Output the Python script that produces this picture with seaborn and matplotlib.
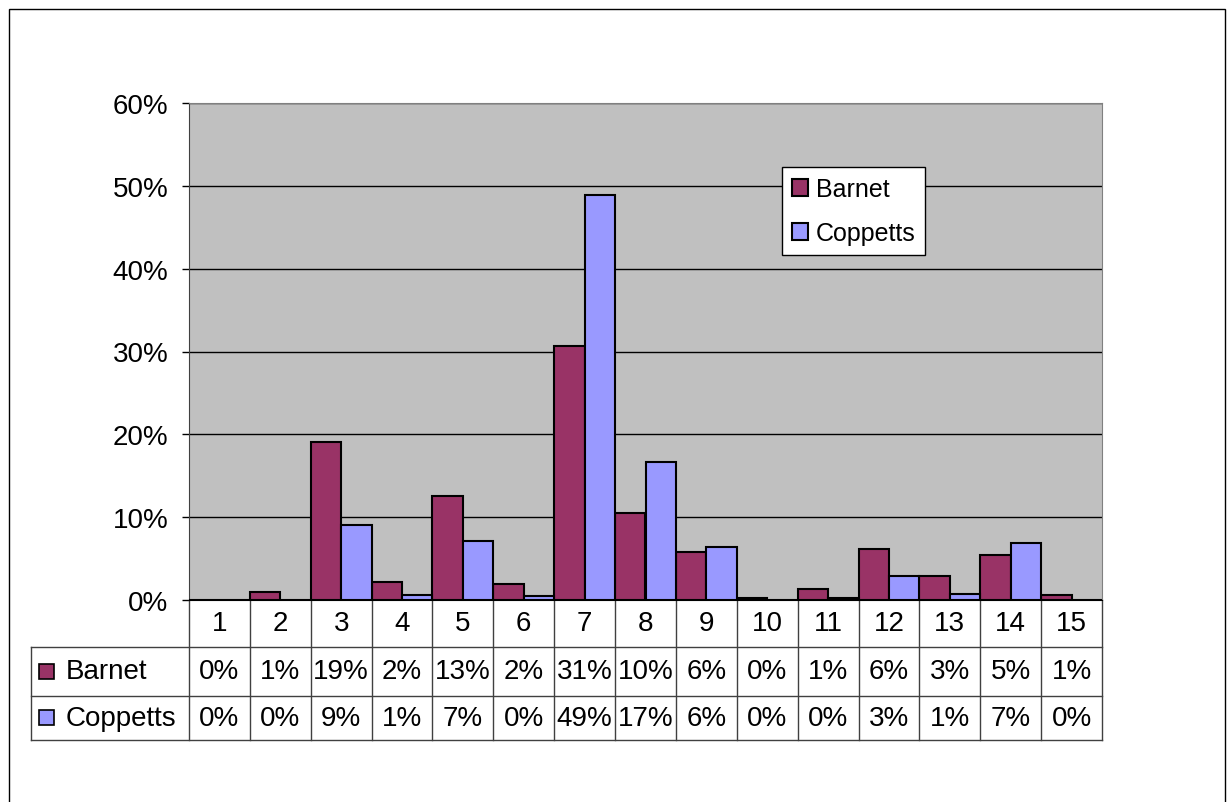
import numpy as np
import pandas as pd
import matplotlib.pyplot as plt
import matplotlib.transforms as mtransforms
from matplotlib.patches import Rectangle
import seaborn as sns

# data (percent)
categories = [str(i) for i in range(1, 16)]
series = ['Barnet', 'Coppetts']
barnet = [0.0, 1.0, 19.1, 2.2, 12.6, 1.95, 30.7, 10.45, 5.8, 0.2, 1.3, 6.1, 2.9, 5.45, 0.55]
coppetts = [0.0, 0.0, 9.0, 0.55, 7.1, 0.45, 48.9, 16.7, 6.45, 0.0, 0.2, 2.9, 0.7, 6.85, 0.0]
colors = ['#993366', '#9999FF']
yticks = [0, 10, 20, 30, 40, 50, 60]

df = pd.DataFrame({
    'category': categories * 2,
    'site': ['Barnet'] * len(categories) + ['Coppetts'] * len(categories),
    'value': barnet + coppetts,
})

plt.rcParams['font.family'] = ['Liberation Sans', 'DejaVu Sans']

W, H = 1227, 803
fig = plt.figure(figsize=(W / 100, H / 100), dpi=100)
ax = fig.add_axes([189 / W, 1 - 601 / H, 913 / W, 497 / H])
ax.set_facecolor('#C0C0C0')

sns.barplot(
    data=df, x='category', y='value', hue='site',
    order=categories, hue_order=series, palette=colors, saturation=1,
    width=1.0, gap=0, edgecolor='black', linewidth=1.5,
    ax=ax, zorder=3
)

ax.set_xlim(-0.5, len(categories) - 0.5)
ax.set_ylim(0, 60)
ax.set_yticks(yticks)
ax.set_yticklabels([f'{t}%' for t in yticks], fontsize=20)
ax.tick_params(axis='y', length=5, width=1, pad=10, colors='black')
ax.set_xticks([])
ax.set_xlabel('')
ax.set_ylabel('')
ax.grid(axis='y', color='black', linewidth=1, zorder=1)
ax.set_axisbelow(True)
for side in ['top', 'right']:
    ax.spines[side].set_color('#808080')
ax.spines['left'].set_color('#404040')
ax.spines['bottom'].set_color('black')
ax.spines['bottom'].set_zorder(5)

# legend
handles, labels = ax.get_legend_handles_labels()
leg = ax.legend(
    handles, labels, loc='upper left', bbox_to_anchor=(0.6495, 0.871),
    borderaxespad=0, fontsize=18, frameon=True, fancybox=False,
    edgecolor='black', framealpha=1, handlelength=0.65, handleheight=0.65,
    handletextpad=0.3, labelspacing=0.8, borderpad=0.4
)
leg.get_frame().set_linewidth(1)

# data table under the plot
r0, r1, r2, r3 = 0, -(648 - 601) / 497, -(697 - 601) / 497, -(741 - 601) / 497
x_left = (31 - 189) / 913
line_kw = dict(color='#404040', linewidth=1, clip_on=False)
blend = mtransforms.blended_transform_factory(ax.transData, ax.transAxes)

for k in range(len(categories) + 1):
    ax.plot([k - 0.5, k - 0.5], [r0, r3], transform=blend, **line_kw)
for r in [r1, r2, r3]:
    ax.plot([x_left, 1], [r, r], transform=ax.transAxes, **line_kw)
ax.plot([x_left, x_left], [r1, r3], transform=ax.transAxes, **line_kw)

for i, cat in enumerate(categories):
    ax.text(i, (r0 + r1) / 2, cat, transform=blend, ha='center', va='center', fontsize=20)
    ax.text(i, (r1 + r2) / 2, f'{round(barnet[i])}%', transform=blend,
            ha='center', va='center', fontsize=20)
    ax.text(i, (r2 + r3) / 2, f'{round(coppetts[i])}%', transform=blend,
            ha='center', va='center', fontsize=20)

for name, color, (ra, rb) in zip(series, colors, [(r1, r2), (r2, r3)]):
    mid = (ra + rb) / 2
    ax.add_patch(Rectangle((-0.164, mid - 7 / 497), 15 / 913, 15 / 497,
                           transform=ax.transAxes, facecolor=color,
                           edgecolor='black', linewidth=1.2, clip_on=False))
    ax.text(-0.1347, mid, name, transform=ax.transAxes, ha='left', va='center', fontsize=20)

# outer chart frame
fig.patches.append(Rectangle((9 / W, -0.05), (1225 - 9) / W, 1 - 10 / H + 0.05,
                             transform=fig.transFigure, fill=False,
                             edgecolor='black', linewidth=1))

fig.savefig('out.png', dpi=100)
